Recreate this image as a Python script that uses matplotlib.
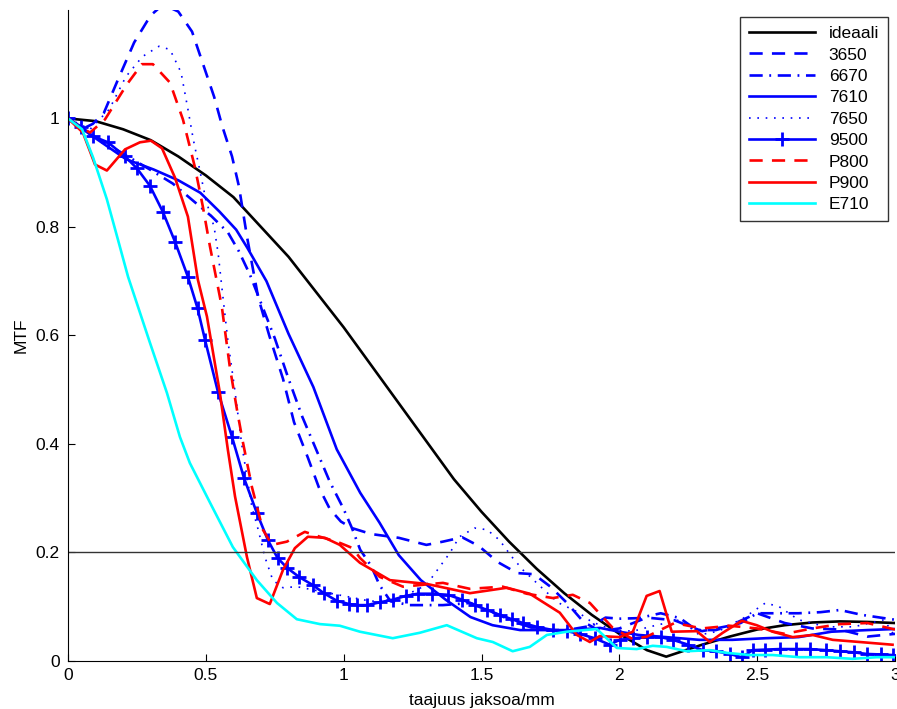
import matplotlib
matplotlib.use("Agg")
import matplotlib.pyplot as plt

plt.rcParams['font.family'] = ['Liberation Sans', 'DejaVu Sans']

# ---- data ----
ideal_x = [0, 0.1, 0.2, 0.3, 0.4, 0.5, 0.6, 0.7, 0.8, 0.9, 1.0, 1.1, 1.2, 1.3, 1.4, 1.5,
           1.6, 1.7, 1.8, 1.9, 2.0, 2.1, 2.17, 2.3, 2.4, 2.5, 2.6, 2.7, 2.8, 2.9, 3.0]
ideal_y = [1.0, 0.995, 0.98, 0.96, 0.93, 0.895, 0.855, 0.80, 0.745, 0.68, 0.615, 0.545,
           0.475, 0.405, 0.335, 0.275, 0.22, 0.17, 0.125, 0.085, 0.05, 0.02, 0.008, 0.03,
           0.045, 0.058, 0.066, 0.071, 0.073, 0.072, 0.07]

s3650_x = [0, 0.05, 0.09, 0.13, 0.18, 0.24, 0.30, 0.345, 0.40, 0.45, 0.49, 0.53, 0.56,
           0.595, 0.62, 0.65, 0.69, 0.73, 0.78, 0.82, 0.87, 0.91, 0.95, 0.99, 1.03, 1.1,
           1.2, 1.3, 1.36, 1.43, 1.49, 1.56, 1.63, 1.69, 1.75, 1.81, 1.87, 1.93, 2.0,
           2.1, 2.2, 2.3, 2.4, 2.5, 2.6, 2.7, 2.8, 2.9, 3.0]
s3650_y = [1.0, 0.98, 0.99, 1.01, 1.07, 1.14, 1.19, 1.21, 1.197, 1.16, 1.10, 1.04, 0.985,
           0.93, 0.875, 0.78, 0.67, 0.60, 0.52, 0.44, 0.375, 0.32, 0.28, 0.257, 0.245,
           0.234, 0.227, 0.214, 0.22, 0.228, 0.212, 0.182, 0.162, 0.160, 0.137, 0.107,
           0.072, 0.055, 0.06, 0.08, 0.075, 0.055, 0.065, 0.088, 0.07, 0.06, 0.058,
           0.045, 0.05]

s6670_x = [0, 0.1, 0.2, 0.3, 0.38, 0.45, 0.52, 0.58, 0.62, 0.66, 0.70, 0.75, 0.80, 0.85,
           0.90, 0.95, 1.0, 1.03, 1.06, 1.10, 1.13, 1.17, 1.24, 1.36, 1.46, 1.54, 1.63,
           1.71, 1.81, 1.90, 1.95, 2.0, 2.07, 2.15, 2.22, 2.28, 2.35, 2.44, 2.50, 2.57,
           2.65, 2.73, 2.80, 2.88, 3.0]
s6670_y = [1.0, 0.965, 0.935, 0.905, 0.88, 0.85, 0.82, 0.79, 0.755, 0.712, 0.66, 0.595,
           0.52, 0.45, 0.39, 0.33, 0.28, 0.245, 0.205, 0.175, 0.14, 0.11, 0.103, 0.103,
           0.107, 0.09, 0.07, 0.057, 0.057, 0.065, 0.08, 0.078, 0.079, 0.088, 0.079,
           0.057, 0.057, 0.070, 0.088, 0.088, 0.088, 0.09, 0.094, 0.085, 0.076]

s7610_x = [0, 0.09, 0.21, 0.31, 0.40, 0.48, 0.55, 0.61, 0.65, 0.72, 0.80, 0.89, 0.975,
           1.06, 1.13, 1.20, 1.28, 1.37, 1.46, 1.54, 1.64, 1.74, 1.83, 1.93, 2.0, 2.07,
           2.17, 2.29, 2.41, 2.53, 2.65, 2.77, 2.9, 3.0]
s7610_y = [1.0, 0.967, 0.925, 0.906, 0.886, 0.863, 0.828, 0.795, 0.762, 0.70, 0.603,
           0.505, 0.39, 0.31, 0.255, 0.195, 0.149, 0.113, 0.081, 0.066, 0.057, 0.057,
           0.057, 0.061, 0.054, 0.048, 0.044, 0.039, 0.039, 0.042, 0.044, 0.054, 0.057,
           0.059]

s7650_x = [0, 0.08, 0.15, 0.21, 0.27, 0.33, 0.37, 0.41, 0.435, 0.455, 0.48, 0.50, 0.53,
           0.545, 0.56, 0.58, 0.605, 0.63, 0.667, 0.69, 0.714, 0.743, 0.78, 0.83, 0.9,
           1.0, 1.1, 1.2, 1.3, 1.385, 1.42, 1.475, 1.52, 1.565, 1.61, 1.65, 1.70, 1.74,
           1.78, 1.85, 1.90, 1.98, 2.05, 2.11, 2.22, 2.29, 2.36, 2.45, 2.53, 2.58, 2.65,
           2.75, 2.85, 2.96, 3.0]
s7650_y = [1.0, 0.98, 1.017, 1.077, 1.114, 1.133, 1.127, 1.085, 1.017, 0.96, 0.90, 0.85,
           0.80, 0.75, 0.68, 0.59, 0.50, 0.40, 0.284, 0.242, 0.192, 0.149, 0.135, 0.137,
           0.13, 0.12, 0.11, 0.115, 0.14, 0.199, 0.229, 0.245, 0.242, 0.223, 0.192,
           0.168, 0.144, 0.125, 0.107, 0.09, 0.072, 0.057, 0.055, 0.063, 0.076, 0.048,
           0.055, 0.079, 0.107, 0.10, 0.076, 0.063, 0.063, 0.076, 0.045]

s9500_x = [0, 0.047, 0.091, 0.145, 0.207, 0.250, 0.297, 0.344, 0.388, 0.435, 0.47, 0.497,
           0.544, 0.595, 0.638, 0.685, 0.725, 0.76, 0.794, 0.838, 0.888, 0.928, 0.975,
           1.019, 1.05, 1.084, 1.13, 1.178, 1.225, 1.269, 1.32, 1.378, 1.43, 1.476, 1.52,
           1.566, 1.61, 1.650, 1.70, 1.759, 1.81, 1.856, 1.91, 1.965, 2.001, 2.05, 2.099,
           2.15, 2.194, 2.25, 2.302, 2.35, 2.400, 2.444, 2.484, 2.53, 2.582, 2.64, 2.690,
           2.75, 2.799, 2.85, 2.897, 2.95, 2.991]
s9500_y = [1.0, 0.985, 0.967, 0.956, 0.930, 0.908, 0.876, 0.828, 0.773, 0.708, 0.65,
           0.592, 0.496, 0.413, 0.338, 0.273, 0.223, 0.19, 0.172, 0.155, 0.140, 0.125,
           0.111, 0.105, 0.103, 0.103, 0.108, 0.113, 0.12, 0.124, 0.124, 0.122, 0.113,
           0.103, 0.094, 0.085, 0.077, 0.070, 0.063, 0.057, 0.055, 0.05, 0.042, 0.03,
           0.039, 0.042, 0.044, 0.044, 0.039, 0.03, 0.020, 0.018, 0.013, 0.007, 0.020,
           0.021, 0.022, 0.022, 0.022, 0.02, 0.018, 0.016, 0.013, 0.012, 0.011]

p800_x = [0, 0.04, 0.08, 0.134, 0.214, 0.268, 0.308, 0.37, 0.417, 0.46, 0.489, 0.515,
          0.558, 0.587, 0.613, 0.635, 0.667, 0.707, 0.74, 0.794, 0.859, 0.914, 0.975,
          1.033, 1.059, 1.131, 1.215, 1.36, 1.458, 1.577, 1.664, 1.759, 1.831, 1.893,
          1.976, 2.05, 2.1, 2.2, 2.3, 2.4, 2.5, 2.6, 2.7, 2.8, 2.9, 3.0]
p800_y = [1.0, 0.985, 0.974, 0.998, 1.063, 1.10, 1.10, 1.066, 0.998, 0.911, 0.838, 0.764,
          0.653, 0.542, 0.463, 0.402, 0.321, 0.242, 0.214, 0.220, 0.238, 0.229, 0.220,
          0.208, 0.190, 0.155, 0.137, 0.144, 0.133, 0.137, 0.124, 0.116, 0.122, 0.107,
          0.061, 0.04, 0.045, 0.07, 0.06, 0.065, 0.06, 0.05, 0.06, 0.068, 0.07, 0.058]

p900_x = [0, 0.054, 0.098, 0.141, 0.207, 0.261, 0.301, 0.341, 0.388, 0.435, 0.471, 0.504,
          0.551, 0.580, 0.606, 0.649, 0.685, 0.732, 0.780, 0.823, 0.870, 0.932, 0.986,
          1.059, 1.168, 1.302, 1.458, 1.592, 1.675, 1.784, 1.846, 1.893, 1.929, 2.001,
          2.049, 2.099, 2.146, 2.190, 2.281, 2.328, 2.375, 2.444, 2.498, 2.556, 2.629,
          2.701, 2.774, 2.872, 2.991]
p900_y = [1.0, 0.974, 0.915, 0.904, 0.943, 0.956, 0.959, 0.945, 0.891, 0.819, 0.703,
          0.635, 0.494, 0.389, 0.303, 0.192, 0.116, 0.105, 0.168, 0.208, 0.229, 0.227,
          0.214, 0.181, 0.149, 0.142, 0.125, 0.135, 0.124, 0.089, 0.048, 0.035, 0.046,
          0.044, 0.054, 0.120, 0.129, 0.054, 0.055, 0.035, 0.052, 0.074, 0.066, 0.054,
          0.044, 0.048, 0.039, 0.035, 0.030]

e710_x = [0, 0.051, 0.091, 0.141, 0.181, 0.218, 0.297, 0.359, 0.406, 0.442, 0.515,
          0.598, 0.685, 0.758, 0.830, 0.914, 0.986, 1.059, 1.178, 1.276, 1.374, 1.483,
          1.541, 1.613, 1.675, 1.737, 1.809, 1.918, 1.991, 2.063, 2.121, 2.172, 2.244,
          2.328, 2.389, 2.473, 2.556, 2.654, 2.752, 2.846, 2.933, 3.0]
e710_y = [1.0, 0.980, 0.928, 0.851, 0.777, 0.708, 0.587, 0.494, 0.413, 0.365, 0.292,
          0.210, 0.149, 0.107, 0.077, 0.068, 0.065, 0.054, 0.042, 0.052, 0.066, 0.042,
          0.035, 0.018, 0.026, 0.048, 0.054, 0.059, 0.024, 0.022, 0.028, 0.026, 0.018,
          0.020, 0.015, 0.011, 0.011, 0.007, 0.007, 0.004, 0.007, 0.007]

labels = ['ideaali', '3650', '6670', '7610', '7650', '9500', 'P800', 'P900', 'E710']
xticks = [0, 0.5, 1, 1.5, 2, 2.5, 3]
xticklabels = ['0', '0.5', '1', '1.5', '2', '2.5', '3']
yticks = [0, 0.2, 0.4, 0.6, 0.8, 1]
yticklabels = ['0', '0.2', '0.4', '0.6', '0.8', '1']

fig = plt.figure(figsize=(8.97, 7.09), dpi=100)
ax = fig.add_axes([0.0758, 0.0677, 0.922, 0.9183])

lw = 1.9
ax.plot(ideal_x, ideal_y, color='black', lw=lw, label=labels[0])
ax.plot(s3650_x, s3650_y, color='blue', lw=lw, linestyle=(0, (5, 3.5)), label=labels[1])
ax.plot(s6670_x, s6670_y, color='blue', lw=lw, linestyle=(0, (5, 2.5, 0.7, 2.5)), label=labels[2])
ax.plot(s7610_x, s7610_y, color='blue', lw=lw, label=labels[3])
ax.plot(s7650_x, s7650_y, color='blue', lw=1.2, linestyle=(0, (1, 4)), label=labels[4])
ax.plot(s9500_x, s9500_y, color='blue', lw=lw, marker='+', markersize=10, mew=2, label=labels[5])
ax.plot(p800_x, p800_y, color='red', lw=lw, linestyle=(0, (5, 3.5)), label=labels[6])
ax.plot(p900_x, p900_y, color='red', lw=lw, label=labels[7])
ax.plot(e710_x, e710_y, color='cyan', lw=lw, label=labels[8])

ax.axhline(0.2, color='#333333', lw=1.0)

ax.set_xlim(0, 3)
ax.set_ylim(0, 1.2)
ax.set_xticks(xticks)
ax.set_xticklabels(xticklabels)
ax.set_yticks(yticks)
ax.set_yticklabels(yticklabels)
ax.tick_params(direction='in', length=5, labelsize=12.5, width=0.8)
ax.tick_params(axis='x', pad=5)
ax.tick_params(axis='y', pad=6)
ax.spines['top'].set_visible(False)
ax.spines['right'].set_visible(False)
ax.set_xlabel('taajuus jaksoa/mm', fontsize=12.5, labelpad=7)
ax.set_ylabel('MTF', fontsize=12.5, labelpad=5)

leg = ax.legend(loc='upper right', bbox_to_anchor=(0.9955, 0.994), fontsize=12.5,
                frameon=True, fancybox=False, edgecolor='black', handlelength=3.8,
                labelspacing=0.36, borderpad=0.5, handletextpad=0.8, borderaxespad=0.2)
leg.get_frame().set_linewidth(1.0)

fig.savefig('out.png', dpi=100)
